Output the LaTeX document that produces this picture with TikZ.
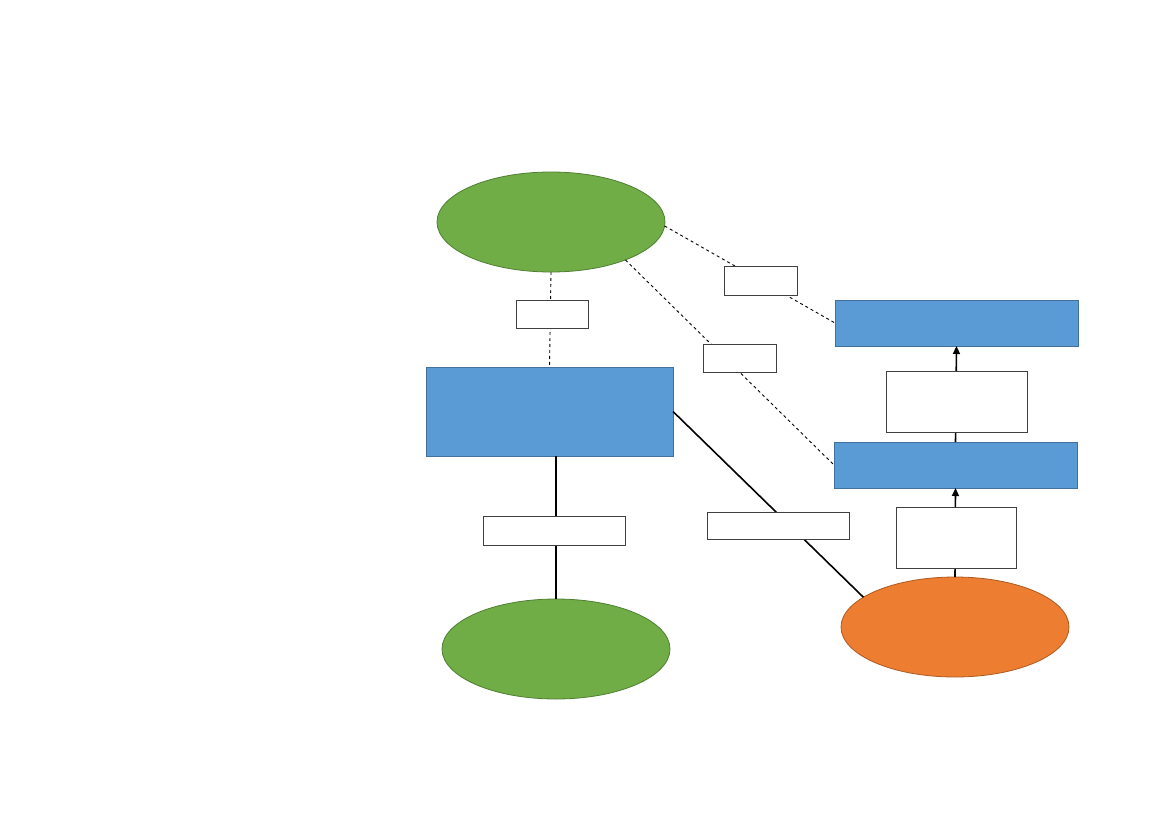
\documentclass[tikz,border=0pt]{standalone}
\usetikzlibrary{shapes.geometric,arrows.meta}
\definecolor{gfill}{HTML}{70AD47}
\definecolor{gdraw}{HTML}{507E32}
\definecolor{bfill}{HTML}{5B9BD5}
\definecolor{bdraw}{HTML}{41719C}
\definecolor{ofill}{HTML}{ED7D31}
\definecolor{odraw}{HTML}{AE5A21}
\tikzset{
  greenell/.style={ellipse,fill=gfill,draw=gdraw,line width=0.8pt,minimum width=228pt,minimum height=100pt,inner sep=0pt,outer sep=0pt},
  orangeell/.style={ellipse,fill=ofill,draw=odraw,line width=0.8pt,minimum width=228pt,minimum height=100pt,inner sep=0pt,outer sep=0pt},
  bluebox/.style={rectangle,fill=bfill,draw=bdraw,line width=0.8pt,inner sep=0pt,outer sep=0pt},
  lblbox/.style={rectangle,fill=white,draw=black!75,line width=0.6pt,inner sep=0pt,outer sep=0pt},
  dashline/.style={draw=black,line width=0.9pt,dash pattern=on 3pt off 3pt},
  solidline/.style={draw=black,line width=1.6pt},
  arrowline/.style={draw=black,line width=1.6pt,-{Triangle[width=7pt,length=8pt]}}
}
\begin{document}
\begin{tikzpicture}[x=1pt,y=-1pt]
\useasboundingbox (0,0) rectangle (1169,827);
% main shapes
\node[greenell] (top) at (551,222) {};
\node[greenell] (bot) at (556,649) {};
\node[orangeell] (org) at (955,627) {};
\node[bluebox,minimum width=247pt,minimum height=89pt] (left) at (549.5,411.5) {};
\node[bluebox,minimum width=243pt,minimum height=46pt] (rtop) at (956.5,323) {};
\node[bluebox,minimum width=243pt,minimum height=46pt] (rmid) at (955.5,465) {};
% connectors
\draw[dashline] (top.south) -- (left.north);
\draw[dashline] (top.-2) -- (rtop.west);
\draw[dashline] (top.-27) -- (rmid.west);
\draw[solidline] (left.south -| bot.north) -- (bot.north);
\draw[solidline] (left.east) -- (org.162);
\draw[arrowline] (org.north) -- (rmid.south);
\draw[arrowline] (rmid.north) -- (rtop.south);
% labels
\node[lblbox,minimum width=72pt,minimum height=28pt] (l1) at (552,314) {};
\node[lblbox,minimum width=73pt,minimum height=29pt] (l2) at (760.5,280.5) {};
\node[lblbox,minimum width=73pt,minimum height=28pt] (l3) at (739.5,358) {};
\node[lblbox,minimum width=142pt,minimum height=29pt] (l4) at (554,530.5) {};
\node[lblbox,minimum width=142pt,minimum height=27pt] (l5) at (778,525.5) {};
\node[lblbox,minimum width=141pt,minimum height=61pt] (l6) at (956.5,401.5) {};
\node[lblbox,minimum width=120pt,minimum height=61pt] (l7) at (956,537.5) {};
\end{tikzpicture}
\end{document}
